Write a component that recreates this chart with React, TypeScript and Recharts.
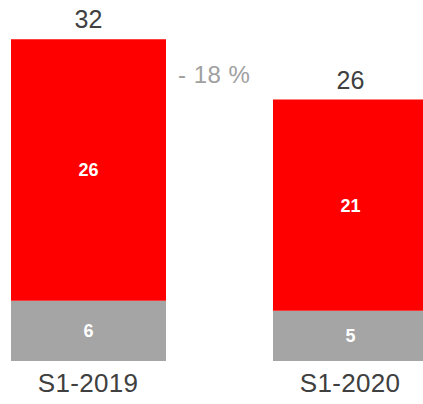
import { BarChart, Bar, XAxis, YAxis, LabelList } from "recharts";

const periods = ["S1-2019", "S1-2020"];
const otherValues = [6, 5];
const coreValues = [26, 21];
const changeLabel = "- 18 %";

const data = periods.map((p, i) => ({
  period: p,
  other: otherValues[i],
  core: coreValues[i],
  total: otherValues[i] + coreValues[i],
}));

const FONT = "'Liberation Sans', Arial, sans-serif";

const renderChange = (props: any) => {
  const { x, y, width, index } = props;
  if (index !== 0) return null;
  return (
    <text
      x={Number(x) + Number(width) + 12}
      y={Number(y) + 37}
      fill="#a0a0a0"
      fontSize={24}
      fontFamily={FONT}
      dominantBaseline="middle"
      letterSpacing={0.5}
    >
      {changeLabel}
    </text>
  );
};

export default function App() {
  return (
    <div
      style={{
        position: "absolute",
        left: 0,
        top: 0,
        width: 423,
        height: 404,
        overflow: "hidden",
        background: "#fff",
      }}
    >
      <div style={{ position: "absolute", left: -43.5, top: 0 }}>
        <BarChart
          width={524}
          height={404}
          data={data}
          margin={{ top: 9, right: 0, bottom: 0, left: 0 }}
          barSize={155}
        >
          <XAxis
            dataKey="period"
            axisLine={false}
            tickLine={false}
            height={43}
            tickMargin={7}
            tick={{ fill: "#404040", fontSize: 26, fontFamily: FONT, letterSpacing: 0.3 }}
          />
          <YAxis hide domain={[0, 35]} />
          <Bar dataKey="other" stackId="a" fill="#a5a5a5" isAnimationActive={false}>
            <LabelList
              dataKey="other"
              position="center"
              fill="#ffffff"
              fontSize={18}
              fontWeight="bold"
              fontFamily={FONT}
            />
          </Bar>
          <Bar dataKey="core" stackId="a" fill="#ff0000" isAnimationActive={false}>
            <LabelList
              dataKey="core"
              position="center"
              fill="#ffffff"
              fontSize={18}
              fontWeight="bold"
              fontFamily={FONT}
            />
            <LabelList
              dataKey="total"
              position="top"
              offset={11}
              fill="#404040"
              fontSize={25}
              fontFamily={FONT}
            />
            <LabelList dataKey="total" content={renderChange} />
          </Bar>
        </BarChart>
      </div>
    </div>
  );
}
